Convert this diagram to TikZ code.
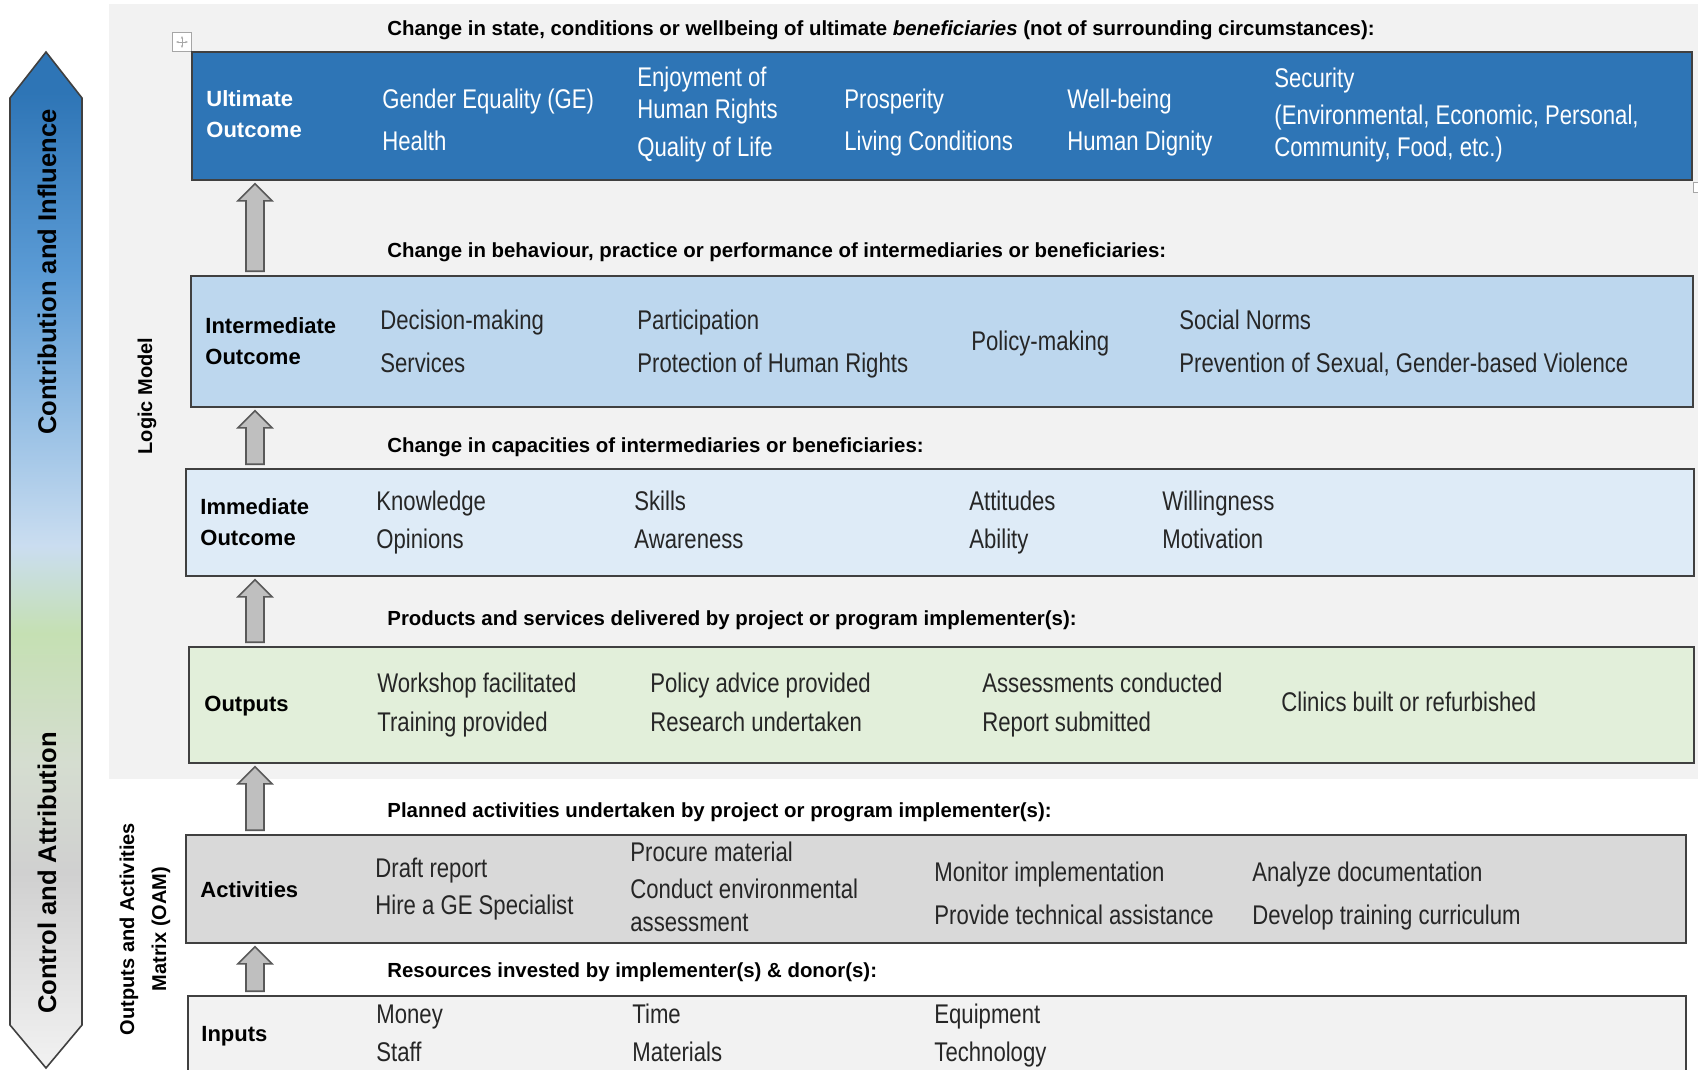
\documentclass[tikz,border=0pt]{standalone}
\usepackage{fontspec}
\setmainfont{Liberation Sans}
\newfontfamily\narrowfont{Liberation Sans}[FakeStretch=0.82]
\usetikzlibrary{calc,arrows.meta}

\definecolor{panelgray}{HTML}{F2F2F2}
\definecolor{boxline}{HTML}{404040}
\definecolor{ultblue}{HTML}{2E75B6}
\definecolor{interblue}{HTML}{BDD7EE}
\definecolor{immedblue}{HTML}{DEEBF7}
\definecolor{outgreen}{HTML}{E2EFDA}
\definecolor{actgray}{HTML}{D9D9D9}
\definecolor{inpgray}{HTML}{F2F2F2}
\definecolor{itemtext}{HTML}{262626}
\definecolor{liftfill}{HTML}{BFBFBF}
\definecolor{liftline}{HTML}{595959}
\definecolor{handleline}{HTML}{A6A6A6}
\definecolor{shA}{HTML}{F2F2F2}
\definecolor{shB}{HTML}{D0D0D0}
\definecolor{shC}{HTML}{D5DDD0}
\definecolor{shD}{HTML}{C5E0B3}
\definecolor{shE}{HTML}{CADDF0}
\definecolor{shF}{HTML}{9DC3E6}
\definecolor{shG}{HTML}{5B9BD5}
\definecolor{shH}{HTML}{2E75B6}
\pgfdeclareverticalshading{reachshade}{100bp}{color(0bp)=(shA); color(25bp)=(shA);
  color(34.6bp)=(shB); color(40bp)=(shC); color(46.4bp)=(shD); color(50.7bp)=(shE);
  color(56.1bp)=(shF); color(64.1bp)=(shG); color(73bp)=(shH); color(100bp)=(shH)}

% block arrow from the box below up to the box above
\newcommand\liftarrow[2]{%
  \draw[lift] let \p0=(liftaxis), \p1=(#1.north), \p2=(#2.south) in
    (\x0-4.5pt,\y1+2pt) -- (\x0-4.5pt,\y2-10pt) -- (\x0-8.5pt,\y2-10pt) -- (\x0,\y2-1.5pt)
    -- (\x0+8.5pt,\y2-10pt) -- (\x0+4.5pt,\y2-10pt) -- (\x0+4.5pt,\y1+2pt) -- cycle;}

\begin{document}
\begin{tikzpicture}
    [x=0.5pt, y=-0.5pt,
    levelbox/.style={draw=boxline, line width=0.8pt, inner sep=0pt},
    head/.style={font=\bfseries\fontsize{10.2}{12}\selectfont, anchor=mid west, inner sep=0pt, yshift=-1pt},
    tag/.style={font=\bfseries\fontsize{11}{15.5}\selectfont, anchor=west, align=left, inner sep=0pt},
    item/.style={font=\narrowfont\fontsize{13.5}{15}\selectfont, anchor=mid west, inner sep=0pt,
        text=itemtext, yshift=-1.5pt},
    sidetext/.style={font=\bfseries\fontsize{12.8}{15}\selectfont, rotate=90, inner sep=0pt},
    lift/.style={fill=liftfill, draw=liftline, line width=0.8pt, line join=miter}]
    \path[use as bounding box, clip] (0,0) rectangle (1698,1070);
    % grey panel of the logic model
    \fill[panelgray] (109,4) rectangle (1698,779);
    % big arrow on the left
    \shadedraw[shading=reachshade, draw=boxline, line width=0.8pt]
    (10,98) -- (46,52) -- (82,98) -- (82,1025) -- (46,1068) -- (10,1025) -- cycle;
    \node[sidetext] (contrib) at (47,272) {Contribution and Influence};
    \node[sidetext] (control) at (47,873) {Control and Attribution};
    % side labels
    \node[sidetext, font=\bfseries\fontsize{10}{16}\selectfont] (logic) at (147,396) {Logic Model};
    \node[sidetext, font=\bfseries\fontsize{10}{16}\selectfont, align=center] (oam) at (145,929)
    {Outputs and Activities\\Matrix (OAM)};
    % table handles
    \node[draw=handleline, fill=white, minimum size=9.5pt, inner sep=0pt] (handle) at (182,42) {};
    \draw[handleline, line width=0.4pt, {Stealth[length=1.4pt]}-{Stealth[length=1.4pt]}]
    ($(handle.center)+(-6,0)$) -- ($(handle.center)+(6,0)$);
    \draw[handleline, line width=0.4pt, {Stealth[length=1.4pt]}-{Stealth[length=1.4pt]}]
    ($(handle.center)+(0,-6)$) -- ($(handle.center)+(0,6)$);
    \node[draw=handleline, fill=white, minimum size=5pt, inner sep=0pt] (sizer) at (1698,187) {};
    % level boxes
    \node[levelbox, fill=ultblue, minimum width=750pt, minimum height=64pt] (ult) at (942,116) {};
    \node[levelbox, fill=interblue, minimum width=751pt, minimum height=65.5pt] (inter) at (942,341.5) {};
    \node[levelbox, fill=immedblue, minimum width=754pt, minimum height=53.5pt] (immed) at (940,522.5) {};
    \node[levelbox, fill=outgreen, minimum width=752.5pt, minimum height=58pt] (outp) at (941.5,705) {};
    \node[levelbox, fill=actgray, minimum width=750pt, minimum height=54pt] (activ) at (936,889) {};
    \node[levelbox, fill=inpgray, minimum width=749pt, minimum height=52pt] (inp) at (937,1048) {};
    % arrows between the levels
    \coordinate (liftaxis) at (255,0);
    \liftarrow{inter}{ult}
    \liftarrow{immed}{inter}
    \liftarrow{outp}{immed}
    \liftarrow{activ}{outp}
    \liftarrow{inp}{activ}
    % headings above the boxes
    \node[head] (headult) at (387,28)
    {Change in state, conditions or wellbeing of ultimate \textit{beneficiaries} (not of surrounding circumstances):};
    \node[head] (headinter) at (387,250)
    {Change in behaviour, practice or performance of intermediaries or beneficiaries:};
    \node[head] (headimmed) at (387,445) {Change in capacities of intermediaries or beneficiaries:};
    \node[head] (headoutp) at (387,618) {Products and services delivered by project or program implementer(s):};
    \node[head] (headactiv) at (387,810) {Planned activities undertaken by project or program implementer(s):};
    \node[head] (headinp) at (387,970) {Resources invested by implementer(s) \& donor(s):};
    % level names
    \node[tag, text=white] (tagult) at (206,114) {Ultimate\\Outcome};
    \node[tag] (taginter) at (205,341) {Intermediate\\Outcome};
    \node[tag] (tagimmed) at (200,522) {Immediate\\Outcome};
    \node[tag] (tagoutp) at (204,706) {Outputs};
    \node[tag] (tagactiv) at (200,890) {Activities};
    \node[tag] (taginp) at (201,1036) {Inputs};
    % items of each level
    \foreach \x/\y/\t [count=\i] in {382/100/{Gender Equality (GE)}, 382/142/Health,
        637/78/{Enjoyment of}, 637/110/{Human Rights}, 637/148/{Quality of Life},
        844/100/Prosperity, 844/142/{Living Conditions}, 1067/100/Well-being, 1067/142/{Human Dignity},
        1274/79/Security, 1274/116/{(Environmental, Economic, Personal,}, 1274/148/{Community, Food, etc.)}}
        \node[item, text=white] (ult\i) at (\x,\y) {\t};
    \foreach \x/\y/\t [count=\i] in {380/321/Decision-making, 380/364/Services,
        637/321/Participation, 637/364/{Protection of Human Rights}, 971/342/Policy-making,
        1179/321/{Social Norms}, 1179/364/{Prevention of Sexual, Gender-based Violence}}
        \node[item] (inter\i) at (\x,\y) {\t};
    \foreach \x/\y/\t [count=\i] in {376/502/Knowledge, 376/540/Opinions, 634/502/Skills, 634/540/Awareness,
        969/502/Attitudes, 969/540/Ability, 1162/502/Willingness, 1162/540/Motivation}
        \node[item] (immed\i) at (\x,\y) {\t};
    \foreach \x/\y/\t [count=\i] in {377/684/{Workshop facilitated}, 377/723/{Training provided},
        650/684/{Policy advice provided}, 650/723/{Research undertaken},
        982/684/{Assessments conducted}, 982/723/{Report submitted}, 1281/703/{Clinics built or refurbished}}
        \node[item] (outp\i) at (\x,\y) {\t};
    \foreach \x/\y/\t [count=\i] in {375/869/{Draft report}, 375/906/{Hire a GE Specialist},
        630/853/{Procure material}, 630/890/{Conduct environmental}, 630/923/assessment,
        934/873/{Monitor implementation}, 934/916/{Provide technical assistance},
        1252/873/{Analyze documentation}, 1252/916/{Develop training curriculum}}
        \node[item] (activ\i) at (\x,\y) {\t};
    \foreach \x/\y/\t [count=\i] in {376/1015/Money, 376/1053/Staff, 632/1015/Time, 632/1053/Materials,
        934/1015/Equipment, 934/1053/Technology}
        \node[item] (inp\i) at (\x,\y) {\t};
\end{tikzpicture}
\end{document}
